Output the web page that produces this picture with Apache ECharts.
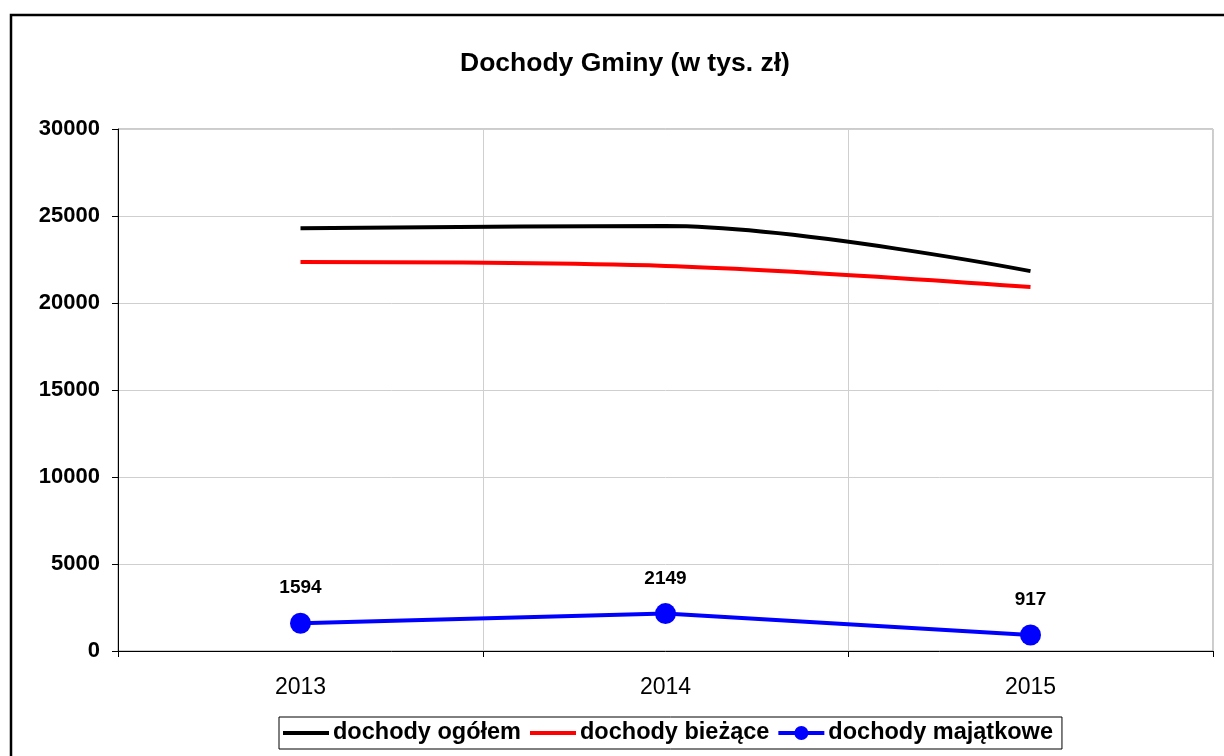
<!DOCTYPE html>
<html>
<head>
<meta charset="utf-8">
<script src="https://cdn.jsdelivr.net/npm/echarts@6/dist/echarts.min.js"></script>
<style>
  html, body { margin: 0; padding: 0; background: #fff; }
  #chart { width: 1224px; height: 756px; }
</style>
</head>
<body>
<div id="chart"></div>
<script>
const years = ['2013', '2014', '2015'];
const ogolem = [24300, 24420, 21830];
const biezace = [22350, 22130, 20920];
const majatkowe = [1594, 2149, 917];
const yTicks = [0, 5000, 10000, 15000, 20000, 25000, 30000];

const font = '"Liberation Sans", Arial, sans-serif';
const myChart = echarts.init(document.getElementById('chart'));

const lineIcon = 'path://M0,5 L46,5 L46,9 L0,9 Z';
const dotIcon = 'path://M0,5 L46,5 L46,9 L0,9 Z M30,7 A7,7 0 1 1 16,7 A7,7 0 1 1 30,7 Z';

const option = {
  animation: false,
  textStyle: { fontFamily: font },
  title: {
    text: 'Dochody Gminy (w tys. zł)',
    left: 455,
    top: 45,
    textStyle: { fontSize: 26.5, fontWeight: 'bold', color: '#000', fontFamily: font }
  },
  graphic: [
    {
      type: 'rect',
      shape: { x: 11, y: 15, width: 1300, height: 800 },
      style: { fill: 'none', stroke: '#000', lineWidth: 2.5 },
      silent: true
    }
  ],
  legend: {
    left: 279,
    top: 717,
    itemWidth: 46,
    itemHeight: 14,
    itemGap: 9,
    padding: [4, 9, 4, 4],
    borderColor: '#000',
    borderWidth: 1,
    textStyle: { fontSize: 23.5, fontWeight: 'bold', color: '#000', fontFamily: font, padding: [0, 0, 0, -1] },
    data: [
      { name: 'dochody ogółem', icon: lineIcon },
      { name: 'dochody bieżące', icon: lineIcon },
      { name: 'dochody majątkowe', icon: dotIcon }
    ]
  },
  grid: {
    left: 118,
    top: 129,
    right: 11,
    bottom: 105,
    show: true,
    borderColor: '#999',
    borderWidth: 1
  },
  xAxis: {
    type: 'category',
    data: years,
    boundaryGap: true,
    axisLine: { lineStyle: { color: '#000', width: 1 } },
    axisTick: { show: true, interval: 0, length: 6, lineStyle: { color: '#000' } },
    axisLabel: { fontSize: 23, color: '#000', margin: 25, fontFamily: font },
    splitLine: { show: true, interval: 0, lineStyle: { color: '#cfcfcf', width: 1 } }
  },
  yAxis: {
    type: 'value',
    min: yTicks[0],
    max: yTicks[yTicks.length - 1],
    interval: 5000,
    axisLine: { show: true, lineStyle: { color: '#000', width: 1 } },
    axisTick: { show: true, length: 6, lineStyle: { color: '#000' } },
    axisLabel: {
      fontSize: 22, fontWeight: 'bold', color: '#000', margin: 18, fontFamily: font,
      formatter: v => String(v)
    },
    splitLine: { lineStyle: { color: '#cfcfcf', width: 1 } }
  },
  series: [
    {
      name: 'dochody ogółem',
      type: 'line',
      data: ogolem,
      smooth: 0.35,
      showSymbol: false,
      symbol: 'none',
      itemStyle: { color: '#000' },
      lineStyle: { color: '#000', width: 4 }
    },
    {
      name: 'dochody bieżące',
      type: 'line',
      data: biezace,
      smooth: 0.35,
      showSymbol: false,
      symbol: 'none',
      itemStyle: { color: '#ff0000' },
      lineStyle: { color: '#ff0000', width: 4 }
    },
    {
      name: 'dochody majątkowe',
      type: 'line',
      data: majatkowe,
      symbol: 'circle',
      symbolSize: 21,
      itemStyle: { color: '#0000ff' },
      lineStyle: { color: '#0000ff', width: 4 },
      label: {
        show: true,
        position: 'top',
        distance: 15,
        fontSize: 19,
        fontWeight: 'bold',
        color: '#000',
        fontFamily: font
      }
    }
  ]
};

myChart.setOption(option);
</script>
</body>
</html>
